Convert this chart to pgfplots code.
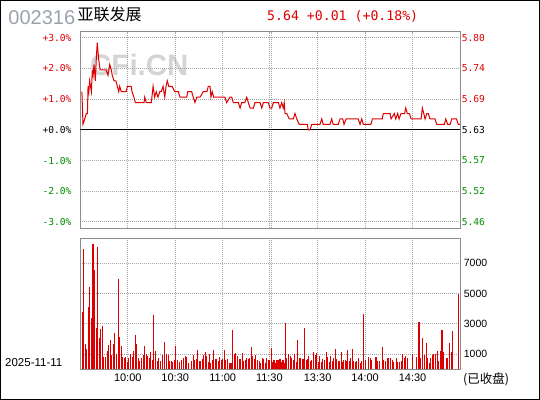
\documentclass[border=0pt]{standalone}
\usepackage{pgfplots}
\usepackage{pgfplotstable}
\pgfplotsset{compat=1.18}
\usepackage{fontspec}
\setmainfont{Liberation Sans}
\newfontfamily\monofont{DejaVu Sans Mono}
\newfontfamily\cjk{Noto Sans CJK SC}
\definecolor{cred}{RGB}{221,0,0}
\definecolor{cgreen}{RGB}{0,140,0}
\definecolor{cgrid}{RGB}{165,165,165}
\definecolor{caxis}{RGB}{140,140,140}
\definecolor{ccode}{RGB}{155,162,172}
\definecolor{cwm}{RGB}{212,212,212}

\pgfplotstableread{
m p
1.0 5.70
1.7 5.64
2.8 5.65
3.8 5.66
4.5 5.66
4.9 5.71
5.4 5.70
5.9 5.72
7.0 5.70
7.6 5.74
8.1 5.73
8.7 5.75
9.5 5.72
10.1 5.76
10.7 5.79
11.6 5.76
12.5 5.74
16.3 5.74
17.5 5.73
18.6 5.75
19.6 5.74
20.2 5.73
21.3 5.72
22.5 5.72
23.4 5.71
24.3 5.70
24.9 5.71
25.9 5.70
29.0 5.70
29.7 5.71
32.2 5.71
32.7 5.70
33.9 5.69
34.8 5.68
40.3 5.68
40.7 5.69
41.7 5.68
44.9 5.68
46.0 5.71
47.0 5.69
48.0 5.70
49.1 5.69
50.2 5.70
51.2 5.70
52.3 5.71
53.4 5.69
54.2 5.71
55.0 5.72
55.9 5.71
58.0 5.71
59.7 5.70
62.0 5.70
63.0 5.69
67.3 5.69
67.9 5.70
70.4 5.70
71.4 5.69
72.5 5.68
73.6 5.69
75.7 5.69
77.7 5.70
80.0 5.70
80.9 5.71
82.0 5.71
82.6 5.69
83.4 5.70
84.3 5.69
91.4 5.69
92.5 5.68
94.6 5.69
95.7 5.69
96.7 5.68
99.9 5.68
101.0 5.67
102.0 5.68
104.0 5.68
105.2 5.69
106.2 5.68
107.3 5.67
109.4 5.67
110.4 5.68
113.6 5.68
114.7 5.67
115.7 5.68
118.8 5.68
119.9 5.67
121.0 5.67
122.0 5.68
125.2 5.68
126.2 5.67
127.3 5.68
128.3 5.67
128.9 5.68
129.4 5.66
130.5 5.66
132.1 5.65
134.6 5.65
135.7 5.66
136.8 5.65
138.4 5.64
143.5 5.64
144.1 5.63
145.2 5.63
146.3 5.64
151.5 5.64
152.6 5.65
153.6 5.64
157.8 5.64
158.9 5.65
159.9 5.64
163.0 5.64
164.2 5.65
165.9 5.65
166.7 5.64
168.0 5.65
175.7 5.65
176.8 5.64
177.9 5.65
178.9 5.64
183.7 5.64
184.6 5.65
190.9 5.65
191.5 5.66
195.8 5.66
196.4 5.65
198.5 5.66
199.4 5.65
200.6 5.66
201.5 5.65
202.7 5.66
205.0 5.66
205.7 5.67
206.7 5.66
208.0 5.66
209.1 5.65
215.4 5.65
216.2 5.67
217.1 5.66
217.9 5.65
219.0 5.66
220.0 5.66
221.0 5.65
224.2 5.65
225.3 5.64
230.1 5.64
231.0 5.65
232.2 5.64
233.7 5.64
234.8 5.65
237.8 5.65
238.9 5.64
240.0 5.64
}\pricedata

\pgfplotstableread{
m v
1.29 3762
1.92 7920
3.19 1650
3.82 1320
5.08 4092
5.71 5412
6.98 3366
8.03 8250
8.87 6534
10.14 2706
10.77 8052
12.04 2046
12.67 2640
13.93 2838
14.56 792
15.83 792
17.09 1188
17.72 1584
18.99 1914
19.62 924
20.88 1650
21.52 2376
22.78 990
24.05 5940
24.68 2112
25.94 1518
26.57 792
27.84 726
28.47 792
29.73 462
30.37 726
31.63 990
32.90 792
33.53 1188
34.79 2244
35.42 1650
36.69 726
37.32 528
38.58 726
39.85 924
40.48 1518
41.74 990
42.38 858
43.64 726
44.27 1122
45.54 594
46.17 3564
47.43 1188
48.70 528
49.33 726
50.59 528
51.86 924
53.12 1782
54.39 990
55.65 924
56.28 528
57.55 528
58.18 462
59.44 594
60.07 1518
61.34 594
62.6 484
63.9 616
65.1 748
66.4 858
67.0 792
68.3 418
70.2 550
71.5 924
72.1 616
73.4 704
74.0 1276
75.2 550
75.9 550
77.1 682
77.8 946
79.0 1144
79.7 880
80.9 462
81.6 1012
82.2 440
83.5 616
84.1 1276
85.4 682
86.0 682
87.3 550
87.9 814
89.2 594
89.8 682
91.0 1276
91.7 638
93.0 682
94.2 440
94.8 440
95.5 396
96.1 2596
97.4 1012
98.0 1056
99.3 880
100.5 682
101.2 682
102.4 1056
103.1 550
104.3 616
105.0 748
106.2 660
106.8 748
108.1 1452
108.7 902
110.0 682
110.6 946
111.9 616
113.2 550
113.8 396
115.1 748
115.7 682
117.0 396
117.6 726
118.9 616
119.5 616
120.6 1386
121.2 484
122.4 616
123.1 418
124.3 616
125.0 616
126.2 682
126.9 484
128.1 616
128.8 396
129.6 3058
130.2 748
131.5 1012
132.8 880
133.4 726
134.7 616
135.3 1012
136.6 484
137.2 1936
138.5 748
139.1 748
140.4 682
141.0 682
141.6 2728
142.9 616
143.5 682
144.2 880
145.4 550
146.0 616
147.3 1144
148.6 946
149.2 1078
150.5 484
151.1 880
152.4 484
153.0 682
154.3 616
155.5 1144
156.2 814
157.4 484
158.1 880
159.3 550
160.0 748
161.2 1342
161.9 682
163.1 550
163.7 550
165.0 1144
165.6 484
166.3 616
167.5 616
168.2 550
168.8 1276
170.1 550
170.7 748
172.0 1342
172.6 550
173.9 484
174.5 550
175.8 748
177.0 418
177.7 550
178.9 3652
180.2 616
182.1 814
183.3 748
184.0 616
186.9 814
187.8 550
189.0 550
190.9 1474
191.6 616
192.8 550
194.5 748
196.2 748
197.5 616
198.1 484
199.8 748
200.4 484
201.7 484
202.9 550
203.6 1012
204.8 748
205.5 880
206.7 748
209.7 1012
212.4 814
214.1 3124
214.9 748
216.2 2068
217.3 946
218.7 1738
219.4 748
220.6 418
221.3 748
222.5 946
223.2 1012
224.4 1012
225.7 1210
226.3 550
227.6 1210
228.6 2596
229.5 1144
231.4 748
232.0 748
233.3 1738
234.5 1144
235.2 2530
239.0 4972
}\voldata

\begin{document}
\begin{tikzpicture}
\useasboundingbox (0,0) rectangle (540bp,-400bp);
\draw[black, line width=1bp] (0.5bp,-0.5bp) rectangle (539.5bp,-399.5bp);

% header
\node[anchor=base west, inner sep=0, text=ccode, font=\fontsize{20bp}{22bp}\selectfont] at (8.3bp,-24.6bp) {002316};
\node[anchor=base west, inner sep=0, text=black, font=\cjk\fontsize{16bp}{18bp}\selectfont] at (77.5bp,-20bp) {亚联发展};
\node[anchor=base west, inner sep=0, text=cred, font=\monofont\fontsize{13.2bp}{14bp}\selectfont] at (267bp,-20bp) {5.64 +0.01 (+0.18\%)};

% watermark
\node[anchor=base west, inner sep=0, text=cwm, font=\fontsize{29.5bp}{30bp}\selectfont\bfseries] at (90bp,-75bp) {CFi.CN};

% bottom texts
\node[anchor=base west, inner sep=0, font=\fontsize{11.5bp}{12bp}\selectfont] at (5bp,-366bp) {2025-11-11};
\node[anchor=base west, inner sep=0, font=\cjk\fontsize{12.5bp}{13bp}\selectfont] at (463bp,-383.5bp) {(已收盘)};

% price panel
\begin{axis}[
  at={(80.3bp,-228bp)}, anchor=south west, scale only axis,
  width=379.7bp, height=196.3bp,
  xmin=0, xmax=240, ymin=5.44984, ymax=5.81016,
  xtick={30,60,90,119.5,150,180,210}, xticklabels={{},{},{},{},{},{},{}},
  extra x ticks={120.6}, extra x tick labels={{}}, extra x tick style={grid=major},
  ytick={5.4611,5.5174,5.5737,5.63,5.6863,5.7426,5.7989},
  yticklabels={\textcolor{cgreen}{-3.0\%},\textcolor{cgreen}{-2.0\%},\textcolor{cgreen}{-1.0\%},+0.0\%,\textcolor{cred}{+1.0\%},\textcolor{cred}{+2.0\%},\textcolor{cred}{+3.0\%}},
  yticklabel style={font=\monofont\fontsize{9.6bp}{10bp}\selectfont, anchor=east, inner sep=0pt, xshift=-8.6bp},
  grid=major, grid style={cgrid, line width=0.8bp, dash pattern=on 1bp off 1bp},
  major tick length=0pt,
  axis line style={caxis, line width=1bp},
]
\addplot[black, line width=1bp] coordinates {(0,5.63) (240,5.63)};
\addplot[cred, line width=1bp] table[x=m, y=p] {\pricedata};
\end{axis}

% right price labels
\begin{axis}[
  at={(80.3bp,-228bp)}, anchor=south west, scale only axis,
  width=379.7bp, height=196.3bp,
  xmin=0, xmax=240, ymin=5.44984, ymax=5.81016,
  axis x line=none, axis y line*=right, y axis line style={draw=none},
  major tick length=0pt,
  ytick={5.4611,5.5174,5.5737,5.63,5.6863,5.7426,5.7989},
  yticklabels={\textcolor{cgreen}{5.46},\textcolor{cgreen}{5.52},\textcolor{cgreen}{5.57},5.63,\textcolor{cred}{5.69},\textcolor{cred}{5.74},\textcolor{cred}{5.80}},
  yticklabel style={font=\monofont\fontsize{9.6bp}{10bp}\selectfont, anchor=west, inner sep=0pt, xshift=1.7bp},
]
\addplot[draw=none] coordinates {(0,5.63)};
\end{axis}

% volume panel
\begin{axis}[
  at={(80.3bp,-369.3bp)}, anchor=south west, scale only axis,
  width=379.7bp, height=131bp,
  xmin=0, xmax=240, ymin=0, ymax=8650,
  xtick={30,60,90,119.5,150,180,210},
  xticklabels={10:00,10:30,11:00,11:30,13:30,14:00,14:30},
  extra x ticks={120.6}, extra x tick labels={{}}, extra x tick style={grid=major},
  xticklabel style={font=\fontsize{11bp}{12bp}\selectfont, anchor=north, inner sep=0pt, yshift=-4bp},
  ytick={1000,3000,5000,7000},
  yticklabels={1000,3000,5000,7000},
  yticklabel pos=right,
  yticklabel style={font=\fontsize{10.5bp}{11bp}\selectfont, anchor=west, inner sep=0pt, xshift=3.7bp},
  grid=major, grid style={cgrid, line width=0.8bp, dash pattern=on 1bp off 1bp},
  major tick length=0pt,
  axis line style={caxis, line width=1bp},
]
\addplot[ycomb, cred, line width=1.1bp] table[x=m, y=v] {\voldata};
\end{axis}
\end{tikzpicture}
\end{document}
